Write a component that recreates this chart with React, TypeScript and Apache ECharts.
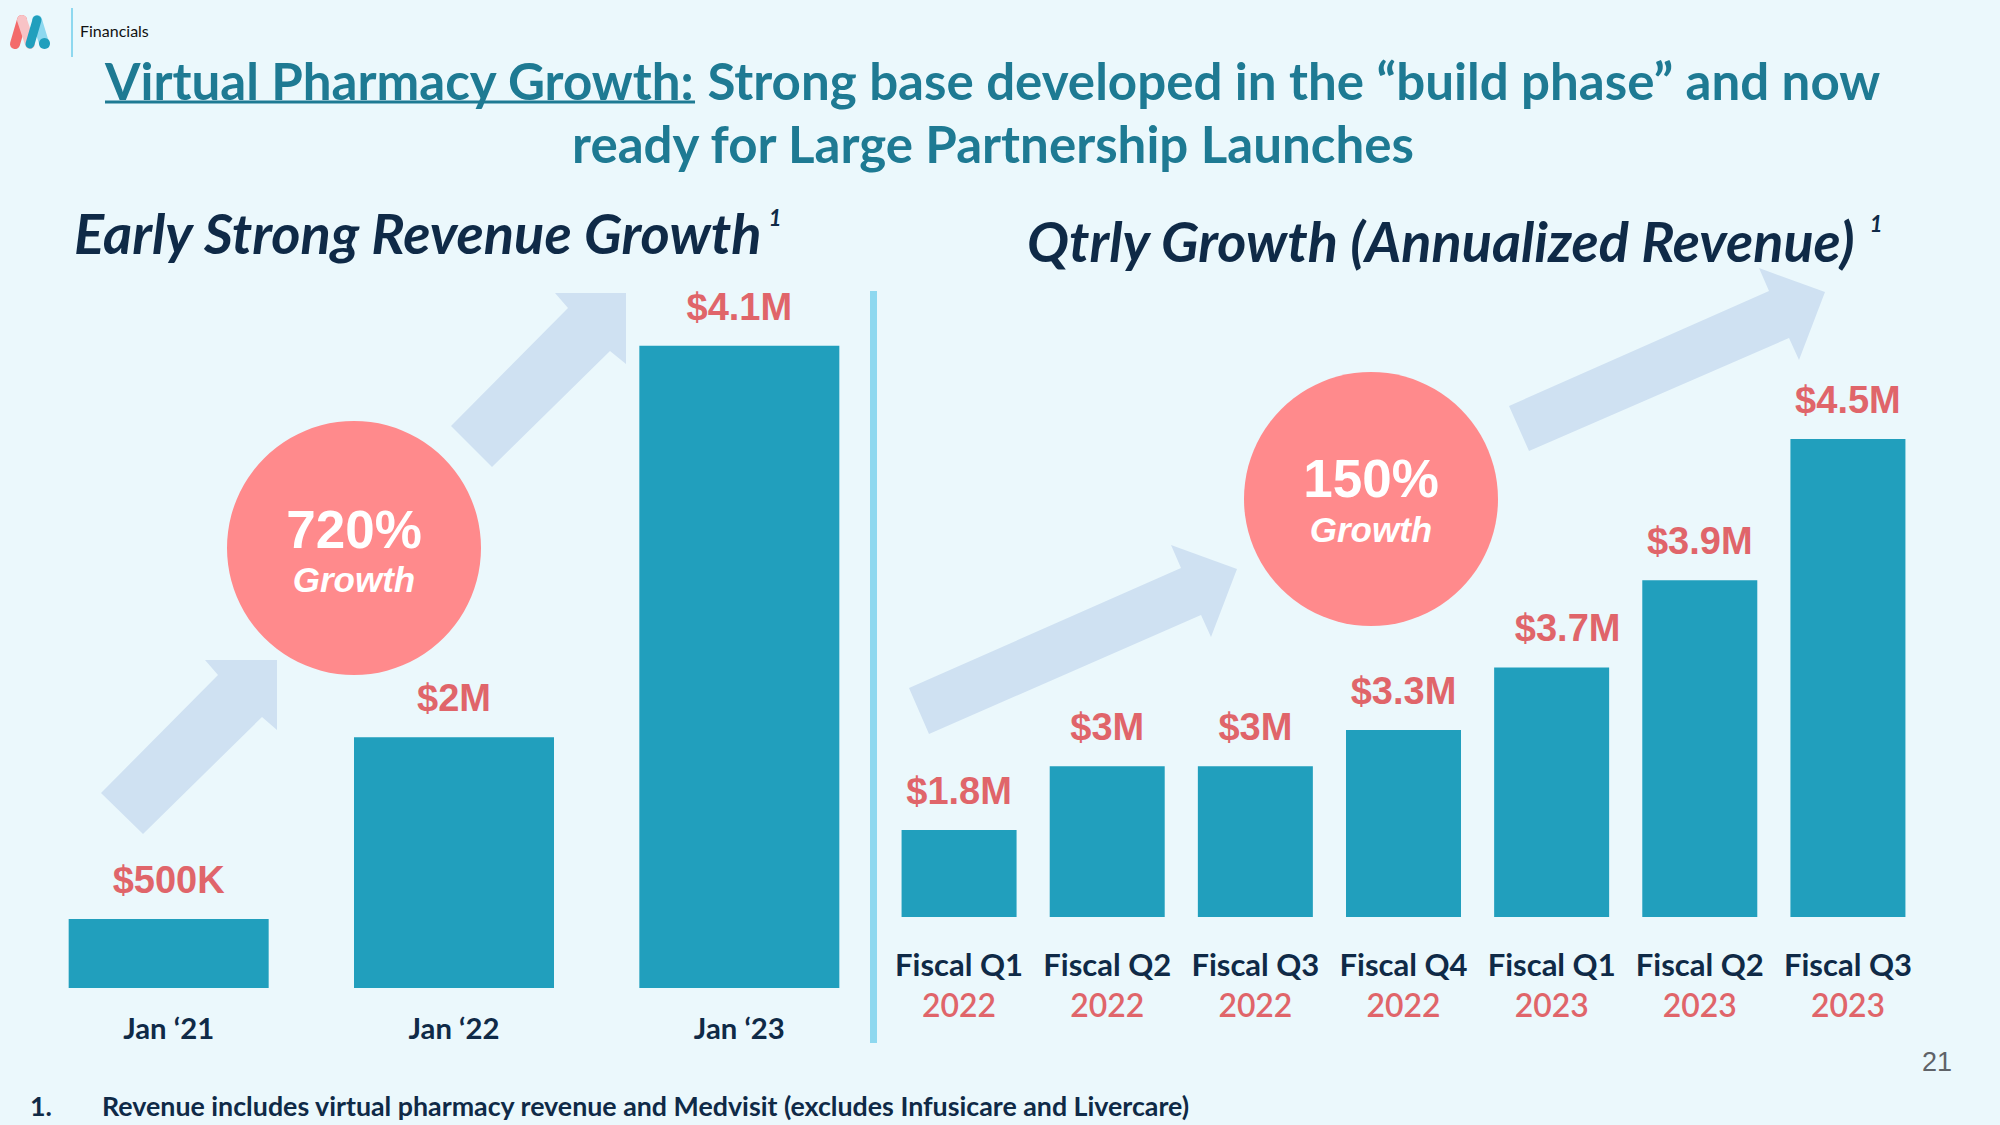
import { useEffect, useRef } from 'react';
import * as echarts from 'echarts';

// ---- data ----
const leftCategories = ['Jan ‘21', 'Jan ‘22', 'Jan ‘23'];
// bar heights as drawn on the slide, in $M (the slide's bars are not drawn to scale with their labels)
const leftValues = [0.44, 1.6, 4.1];
const leftLabels = ['$500K', '$2M', '$4.1M'];

const rightQuarters = ['Fiscal Q1', 'Fiscal Q2', 'Fiscal Q3', 'Fiscal Q4', 'Fiscal Q1', 'Fiscal Q2', 'Fiscal Q3'];
const rightYears = ['2022', '2022', '2022', '2022', '2023', '2023', '2023'];
// bar heights as drawn on the slide, in $M
const rightValues = [0.82, 1.42, 1.42, 1.76, 2.35, 3.17, 4.5];
const rightLabels = ['$1.8M', '$3M', '$3M', '$3.3M', '$3.7M', '$3.9M', '$4.5M'];

const leftGrowth = '720%';
const rightGrowth = '150%';

const titleLead = 'Virtual Pharmacy Growth:';
const titleRest = ' Strong base developed in the “build phase” and now';
const titleLine2 = 'ready for Large Partnership Launches';
const leftHeading = 'Early Strong Revenue Growth';
const rightHeading = 'Qtrly Growth (Annualized Revenue)';
const footnote = 'Revenue includes virtual pharmacy revenue and Medvisit (excludes Infusicare and Livercare)';

// ---- styles ----
const BG = '#EBF8FC';
const BAR = '#219FBD';
const RED = '#E0656A';
const NAVY = '#0F2A47';
const TEAL_TITLE = '#1E7A93';
const ARROW = '#CFE1F2';
const CIRCLE = '#FF8A8C';
const DIVIDER = '#8ED8EF';

export default function App() {
  const ref = useRef<HTMLDivElement>(null);
  useEffect(() => {
    const el = ref.current!;
    const chart = echarts.init(el, undefined, { renderer: 'svg' });
    const canvas = document.createElement('canvas');
    const ctx = canvas.getContext('2d')!;
    const measure = (text: string, font: string) => {
      ctx.font = font;
      return ctx.measureText(text).width;
    };
    const fit = (text: string, style: string, weight: string, target: number, fallback: number) => {
      const w = measure(text, `${style} ${weight} 100px Lato`);
      return w > 0 ? (100 * target) / w : fallback;
    };

    const titleSize = fit(titleLead + titleRest, 'normal', 'bold', 1776, 47);
    const leadW = measure(titleLead, `normal bold ${titleSize}px Lato`) || 580;
    const leftHeadSize = fit(leftHeading, 'italic', 'bold', 689, 48);
    const rightHeadSize = fit(rightHeading, 'italic', 'bold', 829, 48);
    const footSize = fit(footnote, 'normal', 'bold', 1089, 25);
    const janSize = fit('Jan ‘22', 'normal', 'bold', 91, 29);
    const fiscalSize = fit('Fiscal Q2', 'normal', 'bold', 128, 29);
    const yearSize = fit('2022', 'normal', '600', 74, 29);

    const txt = (x: number, y: number, text: string, o: any) => ({
      type: 'text',
      x,
      y,
      silent: true,
      style: {
        text,
        fontFamily: 'Lato',
        textAlign: o.align || 'left',
        align: o.align || 'left',
        textVerticalAlign: 'middle',
        verticalAlign: 'middle',
        ...o,
      },
    });

    const arrow = (pts: number[][]) => ({
      type: 'polygon',
      silent: true,
      shape: { points: pts },
      style: { fill: ARROW },
    });

    const graphic: any[] = [
      // logo
      { type: 'line', shape: { x1: 15, y1: 44, x2: 22, y2: 20 }, style: { stroke: '#F36B6B', lineWidth: 10, lineCap: 'round' } },
      { type: 'line', shape: { x1: 22, y1: 20, x2: 30, y2: 44 }, style: { stroke: '#F8C3C6', lineWidth: 10, lineCap: 'round' } },
      { type: 'line', shape: { x1: 37, y1: 20, x2: 44, y2: 43 }, style: { stroke: '#8ED8EF', lineWidth: 10, lineCap: 'round' } },
      { type: 'line', shape: { x1: 30, y1: 44, x2: 37, y2: 20 }, style: { stroke: '#219FBD', lineWidth: 9, lineCap: 'round' } },
      { type: 'circle', shape: { cx: 44.5, cy: 43.5, r: 5.5 }, style: { fill: '#219FBD' } },
      { type: 'line', shape: { x1: 72, y1: 8, x2: 72, y2: 57 }, style: { stroke: DIVIDER, lineWidth: 2 } },
      txt(80, 30, 'Financials', { fill: '#111111', fontSize: 16, fontWeight: 'normal' }),

      // title
      txt(105, 80, titleLead, { fill: TEAL_TITLE, fontSize: titleSize, fontWeight: 'bold' }),
      txt(105 + leadW, 80, titleRest, { fill: TEAL_TITLE, fontSize: titleSize, fontWeight: 'bold' }),
      { type: 'line', shape: { x1: 105, y1: 102, x2: 105 + leadW, y2: 102 }, style: { stroke: TEAL_TITLE, lineWidth: 3 } },
      txt(993, 143, titleLine2, { fill: TEAL_TITLE, fontSize: titleSize, fontWeight: 'bold', align: 'center' }),

      // section headings
      txt(74, 232, leftHeading, { fill: NAVY, fontSize: leftHeadSize, fontWeight: 'bold', fontStyle: 'italic' }),
      txt(775, 217, '1', { fill: NAVY, fontSize: 22, fontWeight: 'bold', fontStyle: 'italic', align: 'center' }),
      txt(1027, 240, rightHeading, { fill: NAVY, fontSize: rightHeadSize, fontWeight: 'bold', fontStyle: 'italic' }),
      txt(1876, 223, '1', { fill: NAVY, fontSize: 22, fontWeight: 'bold', fontStyle: 'italic', align: 'center' }),

      // arrows
      arrow([[101, 793], [218, 675], [205, 660], [277, 660], [277, 730], [262, 717], [143, 834]]),
      arrow([[451, 426], [568, 308], [555, 293], [626, 293], [626, 364], [610, 351], [492, 467]]),
      arrow([[909, 688], [1181, 568], [1171, 545], [1237, 569], [1211, 637], [1201, 615], [929, 734]]),
      arrow([[1509, 406], [1769, 291], [1759, 268], [1825, 292], [1799, 360], [1789, 338], [1529, 451]]),

      // growth bubbles
      { type: 'circle', shape: { cx: 354, cy: 548, r: 127 }, style: { fill: CIRCLE } },
      txt(354, 529, leftGrowth, { fill: '#FFFFFF', fontSize: 53, fontWeight: 'bold', fontFamily: 'Liberation Sans, Arial', align: 'center' }),
      txt(354, 579, 'Growth', { fill: '#FFFFFF', fontSize: 35, fontWeight: 'bold', fontStyle: 'italic', fontFamily: 'Liberation Sans, Arial', align: 'center' }),
      { type: 'circle', shape: { cx: 1371, cy: 499, r: 127 }, style: { fill: CIRCLE } },
      txt(1371, 478, rightGrowth, { fill: '#FFFFFF', fontSize: 53, fontWeight: 'bold', fontFamily: 'Liberation Sans, Arial', align: 'center' }),
      txt(1371, 529, 'Growth', { fill: '#FFFFFF', fontSize: 35, fontWeight: 'bold', fontStyle: 'italic', fontFamily: 'Liberation Sans, Arial', align: 'center' }),

      // divider
      { type: 'line', shape: { x1: 873.5, y1: 291, x2: 873.5, y2: 1043 }, style: { stroke: DIVIDER, lineWidth: 7 } },

      // footnote & page number
      txt(30, 1106, '1.', { fill: NAVY, fontSize: footSize, fontWeight: 'bold' }),
      txt(102, 1106, footnote, { fill: NAVY, fontSize: footSize, fontWeight: 'bold' }),
      txt(1937, 1062, '21', { fill: '#5F6368', fontSize: 27, fontWeight: 'normal', fontFamily: 'Liberation Sans, Arial', align: 'center' }),
    ];

    const valueLabel = {
      show: true,
      position: 'top',
      distance: 20,
      color: RED,
      fontSize: 38,
      fontWeight: 'bold',
      fontFamily: 'Liberation Sans, Arial',
    };

    const option: any = {
      animation: false,
      backgroundColor: BG,
      grid: [
        { left: 26, top: 283, width: 856, height: 705 },
        { left: 885, top: 386, width: 1037, height: 531 },
      ],
      xAxis: [
        {
          type: 'category',
          gridIndex: 0,
          data: leftCategories,
          axisLine: { show: false },
          axisTick: { show: false },
          splitLine: { show: false },
          axisLabel: {
            interval: 0,
            margin: 25,
            color: NAVY,
            fontFamily: 'Lato',
            fontWeight: 'bold',
            fontSize: janSize,
          },
        },
        {
          type: 'category',
          gridIndex: 1,
          data: rightQuarters.map((q, i) => `${q} ${rightYears[i]}`),
          axisLine: { show: false },
          axisTick: { show: false },
          splitLine: { show: false },
          axisLabel: {
            interval: 0,
            margin: 26,
            formatter: (_v: string, i: number) => `{q|${rightQuarters[i]}}\n{y|${rightYears[i]}}`,
            rich: {
              q: { color: NAVY, fontFamily: 'Lato', fontWeight: 'bold', fontSize: fiscalSize, lineHeight: 41 },
              y: { color: RED, fontFamily: 'Lato', fontWeight: 600, fontSize: yearSize, lineHeight: 41 },
            },
          },
        },
      ],
      yAxis: [
        { type: 'value', gridIndex: 0, min: 0, max: 4.5, show: false, splitLine: { show: false } },
        { type: 'value', gridIndex: 1, min: 0, max: 5, show: false, splitLine: { show: false } },
      ],
      series: [
        {
          type: 'bar',
          xAxisIndex: 0,
          yAxisIndex: 0,
          data: leftValues,
          barWidth: 200,
          itemStyle: { color: BAR },
          label: { ...valueLabel, formatter: (p: any) => leftLabels[p.dataIndex] },
        },
        {
          type: 'bar',
          xAxisIndex: 1,
          yAxisIndex: 1,
          data: rightValues.map((v, i) => (i === 4 ? { value: v, label: { offset: [16, 0] } } : v)),
          barWidth: 115,
          itemStyle: { color: BAR },
          label: { ...valueLabel, formatter: (p: any) => rightLabels[p.dataIndex] },
        },
      ],
      graphic,
    };

    chart.setOption(option);
    return () => chart.dispose();
  }, []);

  return <div ref={ref} style={{ position: 'fixed', left: 0, top: 0, width: 2000, height: 1125 }} />;
}
